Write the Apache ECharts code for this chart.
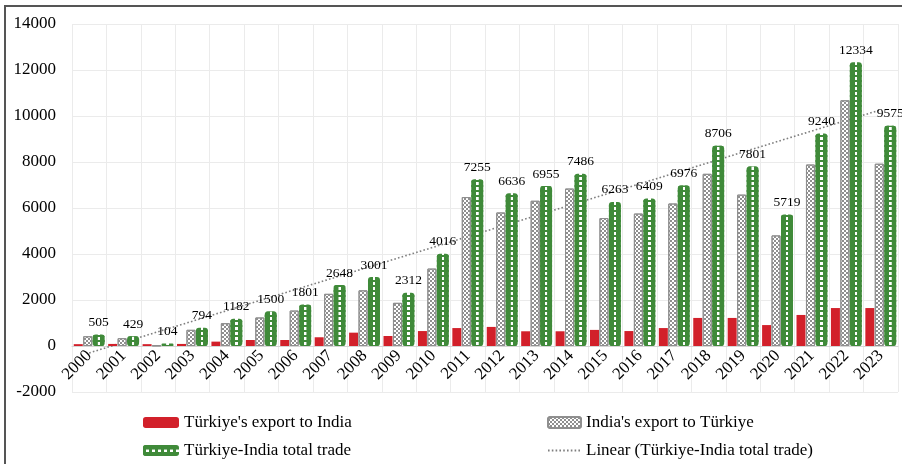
<!DOCTYPE html>
<html>
<head>
<meta charset="utf-8">
<script src="https://cdn.jsdelivr.net/npm/echarts@6/dist/echarts.min.js"></script>
<style>
  html, body { margin: 0; padding: 0; background: #fff; }
  #chart { width: 902px; height: 464px; }
</style>
</head>
<body>
<div id="chart"></div>
<script>
const years = ["2000", "2001", "2002", "2003", "2004", "2005", "2006", "2007", "2008", "2009", "2010", "2011",
  "2012", "2013", "2014", "2015", "2016", "2017", "2018", "2019", "2020", "2021", "2022", "2023"];
const turkiyeExport = [80, 90, 80, 90, 190, 260, 260, 380, 580, 435, 650, 780,
  830, 640, 640, 700, 650, 780, 1220, 1220, 910, 1350, 1650, 1650];
const indiaExport = [425, 339, 24, 704, 992, 1240, 1541, 2268, 2421, 1877, 3366, 6475,
  5806, 6315, 6846, 5563, 5759, 6196, 7486, 6581, 4809, 7890, 10684, 7925];
const totalTrade = [505, 429, 104, 794, 1182, 1500, 1801, 2648, 3001, 2312, 4016, 7255,
  6636, 6955, 7486, 6263, 6409, 6976, 8706, 7801, 5719, 9240, 12334, 9575];
// linear trend end points
const trendStart = -300;
const trendEnd = 10270;
const yTicks = { min: -2000, max: 14000, step: 2000 };

const names = [
  "Türkiye's export to India",
  "India's export to Türkiye",
  "Türkiye-India total trade",
  "Linear (Türkiye-India total trade)",
];

const serif = "'Liberation Serif', 'Times New Roman', serif";
const green = "#3f8a39";
const red = "#d2202a";

const trendData = years.map((y, i) => (i === 0 ? trendStart : i === years.length - 1 ? trendEnd : null));

const greenFill = {
  type: "linear", x: 0, y: 0, x2: 1, y2: 0,
  colorStops: [
    { offset: 0, color: green }, { offset: 0.4, color: green },
    { offset: 0.42, color: "#ffffff" }, { offset: 0.6, color: "#ffffff" },
    { offset: 0.62, color: green }, { offset: 1, color: green },
  ],
};
const greenLegendFill = {
  type: "linear", x: 0, y: 0, x2: 0, y2: 1,
  colorStops: [
    { offset: 0, color: green }, { offset: 0.4, color: green },
    { offset: 0.42, color: "#ffffff" }, { offset: 0.62, color: "#ffffff" },
    { offset: 0.64, color: green }, { offset: 1, color: green },
  ],
};
const checker = {
  symbol: "rect", symbolSize: 1, color: "#8f8f8f",
  dashArrayX: [[2, 2], [0, 2, 2, 0]], dashArrayY: [2, 0],
};

const legendText = { fontFamily: serif, fontSize: 17, color: "#000" };
function legendAt(name, left, top, width, extra) {
  return {
    data: [Object.assign({ name: name }, extra || {})],
    left: left, top: top, padding: 0, itemWidth: width, itemHeight: 11,
    selectedMode: false, textStyle: legendText,
  };
}

const chart = echarts.init(document.getElementById("chart"));
chart.setOption({
  animation: false,
  graphic: [{
    type: "rect", shape: { x: 5, y: 6, width: 1000, height: 1000 },
    style: { fill: "none", stroke: "#555", lineWidth: 2 }, silent: true,
  }],
  grid: { left: 72, right: 4, top: 24, bottom: 72 },
  legend: [
    legendAt(names[0], 143, 414, 36),
    legendAt(names[1], 547, 414, 33),
    legendAt(names[2], 143, 442, 36, {
      itemStyle: {
        color: greenLegendFill, borderRadius: 2,
        decal: { symbol: "rect", symbolSize: 1, color: green, dashArrayX: [3, 3], dashArrayY: [1, 0] },
      },
    }),
    legendAt(names[3], 547, 442, 33, { itemStyle: { opacity: 0 } }),
  ],
  xAxis: {
    type: "category",
    data: years,
    axisLine: { onZero: true, lineStyle: { color: "#d6d6d6" } },
    axisTick: { show: false },
    splitLine: { show: true, lineStyle: { color: "#ebebeb" } },
    // labels sit next to the zero line, 46px above the grid bottom
    axisLabel: { interval: 0, rotate: 45, margin: -39, fontFamily: serif, fontSize: 17, color: "#000" },
  },
  yAxis: {
    type: "value",
    min: yTicks.min, max: yTicks.max, interval: yTicks.step,
    axisLine: { show: false },
    axisTick: { show: false },
    splitLine: { lineStyle: { color: "#ebebeb" } },
    axisLabel: {
      margin: 16, fontFamily: serif, fontSize: 17, color: "#000",
      formatter: (v) => String(v),
    },
  },
  series: [
    {
      name: names[0], type: "bar", data: turkiyeExport, barWidth: 9, barGap: "15%", z: 3,
      itemStyle: { color: red },
    },
    {
      name: names[1], type: "bar", data: indiaExport, barWidth: 9, barGap: "5%", z: 3,
      itemStyle: { color: "#ffffff", borderColor: "#8f8f8f", borderWidth: 1, decal: checker },
    },
    {
      name: names[2], type: "bar", data: totalTrade, barWidth: 12, barGap: "5%", z: 3,
      itemStyle: {
        color: greenFill, borderRadius: 3,
        decal: { symbol: "rect", symbolSize: 1, color: green, dashArrayX: [1, 0], dashArrayY: [2, 3] },
      },
      label: {
        show: true, position: "top", distance: 5,
        fontFamily: serif, fontSize: 13.5, color: "#000",
      },
    },
    {
      name: names[3], type: "line", data: trendData, connectNulls: true, z: 2,
      symbol: "none", silent: true,
      lineStyle: { color: "#7f7f7f", width: 1.6, type: [1.6, 2.2] },
      itemStyle: { color: "#7f7f7f" },
    },
  ],
});
</script>
</body>
</html>
